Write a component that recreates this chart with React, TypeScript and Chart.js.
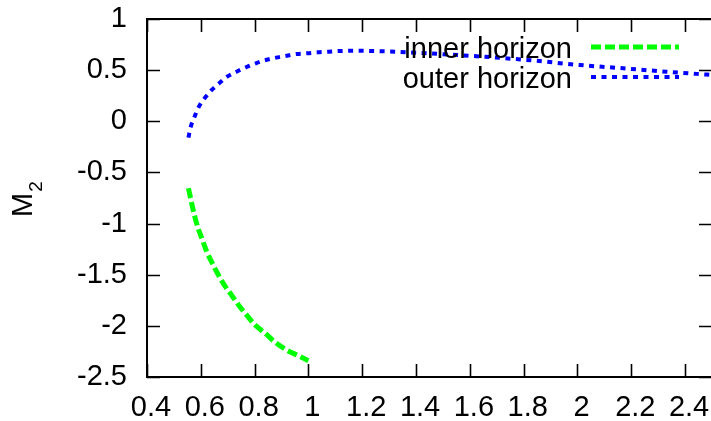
import { useEffect, useRef } from "react";
import { Chart, registerables } from "chart.js";

Chart.register(...registerables);

// Horizon branches: x = parameter, y = M2
const outerX = [0.554, 0.562, 0.576, 0.591, 0.613, 0.638, 0.668, 0.698, 0.733, 0.768, 0.805, 0.842, 0.88, 0.919, 0.956, 0.996, 1.034, 1.074, 1.115, 1.16, 1.3, 1.44, 1.613, 1.81, 2.01, 2.17, 2.33, 2.5];
const outerY = [-0.16, -0.059, 0.039, 0.133, 0.221, 0.3, 0.371, 0.436, 0.485, 0.528, 0.567, 0.599, 0.622, 0.641, 0.658, 0.665, 0.674, 0.68, 0.687, 0.69, 0.683, 0.665, 0.638, 0.6, 0.55, 0.518, 0.485, 0.453];

const innerX = [0.554, 0.566, 0.576, 0.588, 0.606, 0.622, 0.643, 0.662, 0.687, 0.714, 0.743, 0.77, 0.801, 0.838, 0.876, 0.919, 0.957, 0.994, 1.0];
const innerY = [-0.655, -0.8, -0.916, -1.03, -1.16, -1.275, -1.39, -1.486, -1.6, -1.698, -1.805, -1.893, -1.99, -2.07, -2.16, -2.236, -2.285, -2.333, -2.34];

const xTicks = [0.4, 0.6, 0.8, 1, 1.2, 1.4, 1.6, 1.8, 2, 2.2, 2.4];
const yTicks = [-2.5, -2, -1.5, -1, -0.5, 0, 0.5, 1];

const seriesNames = ["inner horizon", "outer horizon"];
const seriesColors = ["#00ff00", "#0000ff"];
const seriesDashes = [[10, 4], [5, 5.5]];
const seriesWidths = [5, 4];

const FONT = "'Liberation Sans', Arial, Helvetica, sans-serif";
const CANVAS_W = 740;
const CANVAS_H = 421;

const framePlugin = {
  id: "frame",
  afterDraw(chart: any) {
    const { ctx, chartArea: a, scales } = chart;
    const x = scales.x;
    const y = scales.y;
    const tl = 13;
    ctx.save();
    ctx.strokeStyle = "#000";
    ctx.lineWidth = 2;
    ctx.lineCap = "butt";
    ctx.strokeRect(a.left, a.top, a.right - a.left, a.bottom - a.top);
    ctx.lineWidth = 1.6;
    ctx.beginPath();
    for (const v of xTicks) {
      const px = Math.round(x.getPixelForValue(v)) + 0.5;
      ctx.moveTo(px, a.bottom);
      ctx.lineTo(px, a.bottom - tl);
      ctx.moveTo(px, a.top);
      ctx.lineTo(px, a.top + tl);
    }
    for (const v of yTicks) {
      const py = Math.round(y.getPixelForValue(v)) + 0.5;
      ctx.moveTo(a.left, py);
      ctx.lineTo(a.left + tl, py);
      ctx.moveTo(a.right, py);
      ctx.lineTo(a.right - tl, py);
    }
    ctx.stroke();

    // y-axis title M with subscript 2
    ctx.fillStyle = "#000";
    ctx.translate(32, 217);
    ctx.rotate(-Math.PI / 2);
    ctx.textAlign = "left";
    ctx.textBaseline = "alphabetic";
    ctx.font = `29px ${FONT}`;
    ctx.fillText("M", 0, 0);
    const mw = ctx.measureText("M").width;
    ctx.font = `19px ${FONT}`;
    ctx.fillText("2", mw + 1, 10);
    ctx.restore();
  },
  afterDatasetsDraw(chart: any) {
    const { ctx } = chart;
    ctx.save();
    ctx.font = `29px ${FONT}`;
    ctx.textAlign = "right";
    ctx.textBaseline = "alphabetic";
    ctx.fillStyle = "#000";
    seriesNames.forEach((name, i) => {
      const base = 58 + i * 30;
      ctx.fillText(name, 572, base);
      ctx.strokeStyle = seriesColors[i];
      ctx.lineWidth = seriesWidths[i];
      ctx.lineCap = "butt";
      ctx.setLineDash(seriesDashes[i]);
      ctx.beginPath();
      ctx.moveTo(591, base - 11);
      ctx.lineTo(679, base - 11);
      ctx.stroke();
    });
    ctx.restore();
  },
};

export default function App() {
  const ref = useRef<HTMLCanvasElement>(null);

  useEffect(() => {
    const canvas = ref.current;
    if (!canvas) return;
    const chart = new Chart(canvas, {
      type: "line",
      data: {
        datasets: [
          {
            label: seriesNames[0],
            data: innerX.map((v, i) => ({ x: v, y: innerY[i] })),
            borderColor: seriesColors[0],
            borderWidth: seriesWidths[0],
            borderDash: seriesDashes[0],
            borderCapStyle: "butt",
            pointRadius: 0,
            fill: false,
            cubicInterpolationMode: "monotone",
          },
          {
            label: seriesNames[1],
            data: outerX.map((v, i) => ({ x: v, y: outerY[i] })),
            borderColor: seriesColors[1],
            borderWidth: seriesWidths[1],
            borderDash: seriesDashes[1],
            borderCapStyle: "butt",
            pointRadius: 0,
            fill: false,
            cubicInterpolationMode: "monotone",
          },
        ],
      },
      options: {
        animation: false,
        responsive: false,
        devicePixelRatio: 1,
        layout: { padding: { top: 19, right: CANVAS_W - 712, bottom: 0, left: 0 } },
        plugins: { legend: { display: false }, tooltip: { enabled: false } },
        scales: {
          x: {
            type: "linear",
            min: 0.4,
            max: 2.5,
            grid: { display: false, drawTicks: false, tickLength: 0 },
            border: { display: false },
            afterBuildTicks: (s: any) => {
              s.ticks = xTicks.map((v) => ({ value: v }));
            },
            afterFit: (s: any) => {
              s.height = 44;
              s.paddingLeft = 0;
              s.paddingRight = 0;
            },
            ticks: {
              autoSkip: false,
              maxRotation: 0,
              padding: 14,
              labelOffset: 4,
              color: "#000",
              font: { family: FONT, size: 29 },
              callback: (v: any) => String(v),
            },
          },
          y: {
            type: "linear",
            min: -2.5,
            max: 1,
            grid: { display: false, drawTicks: false, tickLength: 0 },
            border: { display: false },
            afterBuildTicks: (s: any) => {
              s.ticks = yTicks.map((v) => ({ value: v }));
            },
            afterFit: (s: any) => {
              s.width = 147;
              s.paddingTop = 0;
              s.paddingBottom = 0;
            },
            ticks: {
              autoSkip: false,
              padding: 20,
              color: "#000",
              font: { family: FONT, size: 29 },
              callback: (v: any) => String(v),
            },
          },
        },
      },
      plugins: [framePlugin],
    });
    return () => chart.destroy();
  }, []);

  return (
    <div
      style={{
        position: "fixed",
        left: 0,
        top: 0,
        width: 711,
        height: 421,
        overflow: "hidden",
        background: "#fff",
      }}
    >
      <canvas
        ref={ref}
        width={CANVAS_W}
        height={CANVAS_H}
        style={{ width: CANVAS_W, height: CANVAS_H, display: "block" }}
      />
    </div>
  );
}
